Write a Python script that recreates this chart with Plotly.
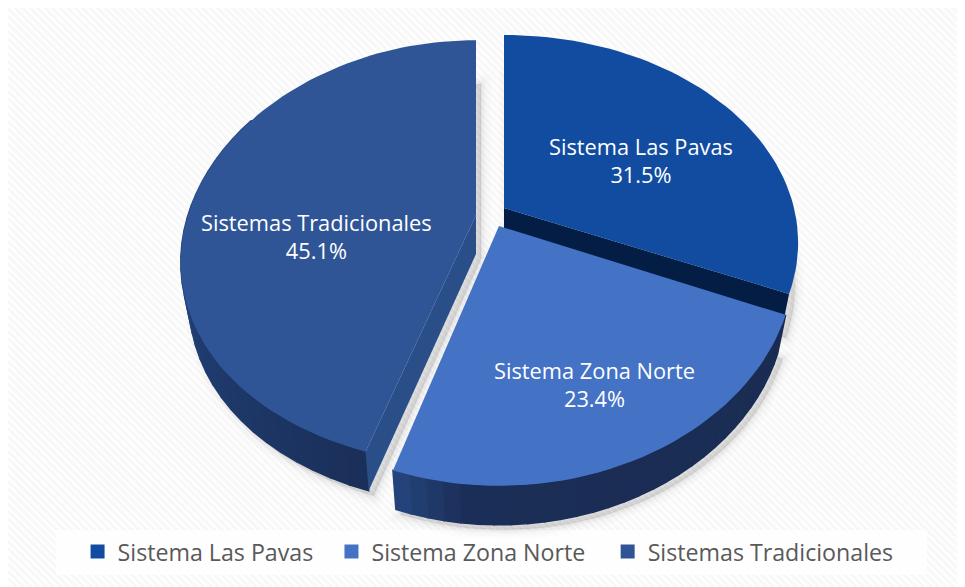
import math
import plotly.graph_objects as go

# ---- chart data
categories = ["Sistema Las Pavas", "Sistema Zona Norte", "Sistemas Tradicionales"]
percentages = [31.5, 23.4, 45.1]

# ---- styling
top_colors = ["#114ca0", "#4472c4", "#2f5597"]
cut_colors = ["#031d45", "#1a2d55", "#2a4e88"]
text_color = "#595959"
FONT = "Open Sans"
W, H = 965, 587
ORIGIN = 8  # the page body starts 8px in; axes keep page-pixel units

# perspective model for each exploded slice: apex x/y, half width, depth scale, perspective
geom = [
    dict(x0=504, y0=208, a=290, b=202, k=0.167, kx=0.167),
    dict(x0=499, y0=226, a=290, b=205, k=0.211, kx=0.18),
    dict(x0=476, y0=215, a=288, b=206, k=0.179, kx=0.22),
]
WALL = 39
BOTTOM_SCALE = 0.972


def project(g, theta, bottom=False):
    t = math.radians(theta)
    u, v = math.sin(t), -math.cos(t)
    s = BOTTOM_SCALE if bottom else 1
    x = g["x0"] + g["a"] * s * u / (1 - g["kx"] * v)
    y = g["y0"] + g["b"] * v / (1 - g["k"] * v) + (WALL if bottom else 0)
    return x, y


def arc(g, a0, a1, bottom=False, step=2.0):
    n = max(2, int(abs(a1 - a0) / step) + 1)
    return [project(g, a0 + (a1 - a0) * i / (n - 1), bottom) for i in range(n)]


def apex(g, bottom=False):
    return (g["x0"], g["y0"] + (WALL if bottom else 0))


def poly(points, fill, line=None, width=0):
    xs = [p[0] for p in points] + [points[0][0]]
    ys = [p[1] for p in points] + [points[0][1]]
    return go.Scatter(
        x=xs, y=ys, mode="lines", fill="toself", fillcolor=fill,
        line=dict(color=line or fill, width=width), hoverinfo="skip", showlegend=False,
    )


def mix(stops, t):
    stops = sorted(stops)
    if t <= stops[0][0]:
        return stops[0][1]
    for (t0, c0), (t1, c1) in zip(stops, stops[1:]):
        if t <= t1:
            f = (t - t0) / (t1 - t0)
            rgb = [
                round(int(c0[i:i + 2], 16) * (1 - f) + int(c1[i:i + 2], 16) * f)
                for i in (1, 3, 5)
            ]
            return "#%02x%02x%02x" % tuple(rgb)
    return stops[-1][1]


# slice angles from the values
angles = []
acc = 0.0
total = sum(percentages)
for p in percentages:
    angles.append((acc, acc + p / total * 360))
    acc += p / total * 360

fig = go.Figure()

# soft cast shadow
for i, g in enumerate(geom):
    a0, a1 = angles[i]
    sil = [(x + 5, y + 5) for x, y in [apex(g, True)] + arc(g, a0, a1, True)]
    for width, alpha in ((20, 0.012), (13, 0.02), (7, 0.035), (2, 0.05)):
        fig.add_trace(poly(sil, f"rgba(40,40,40,{alpha})", f"rgba(40,40,40,{alpha})", width))

# Las Pavas: cut face, then top
g, (a0, a1) = geom[0], angles[0]
fig.add_trace(poly([apex(g), project(g, a1), project(g, a1, True), apex(g, True)], cut_colors[0]))
fig.add_trace(poly([apex(g)] + arc(g, a0, a1), top_colors[0]))

# Zona Norte: outer wall, then top
g, (a0, a1) = geom[1], angles[1]
zn_stops = [(a0, "#1a2c52"), (a1 - 12, "#1b2e57"), (a1, "#25467f")]
for s in range(30):
    t0 = a0 + (a1 - a0) * s / 30
    t1 = a0 + (a1 - a0) * (s + 1) / 30
    col = mix(zn_stops, (t0 + t1) / 2)
    fig.add_trace(poly(arc(g, t0, t1) + arc(g, t1, t0, True), col, col, 1.5))
fig.add_trace(poly([apex(g)] + arc(g, a0, a1), top_colors[1]))

# Tradicionales: outer wall, cut face, top
g, (a0, a1) = geom[2], angles[2]
tr_stops = [(a0, "#1a3059"), (235, "#1f3a6d"), (275, "#28487f")]
for s in range(30):
    t0 = a0 + (300 - a0) * s / 30
    t1 = a0 + (300 - a0) * (s + 1) / 30
    col = mix(tr_stops, (t0 + t1) / 2)
    fig.add_trace(poly(arc(g, t0, t1) + arc(g, t1, t0, True), col, col, 1.5))
fig.add_trace(poly([apex(g), project(g, a0), project(g, a0, True), apex(g, True)], cut_colors[2]))
fig.add_trace(poly([apex(g)] + arc(g, a0, a1), top_colors[2]))

# legend entries, one legend block for each so spacing follows the reference
legend_ids = ["legend", "legend2", "legend3"]
legend_x = [0.0727, 0.338, 0.6266]
for name, col, lid in zip(categories, top_colors, legend_ids):
    fig.add_trace(go.Scatter(
        x=[None], y=[None], mode="markers", name=name, legend=lid,
        marker=dict(symbol="square", size=14, color=col),
    ))

# slice labels
label_pos = [(641, 160), (594, 384), (316, 236)]
annotations = [
    dict(x=x, y=y, xref="x", yref="y", showarrow=False, align="center",
         text=f"{name}<br>{pct}%", font=dict(family=FONT, size=21.8, color="white"))
    for (x, y), name, pct in zip(label_pos, categories, percentages)
]

# hatched backdrop (clipped diagonal stripes)
L, T, R, B = 8, 6, 958, 587
path = []
c = T - R
while c < B - L:
    x1 = max(L, T - c)
    x2 = min(R, B - c)
    if x2 > x1:
        path.append(f"M{x1},{x1 + c}L{x2},{x2 + c}")
    c += 7.5

shapes = [
    dict(type="path", path="".join(path), xref="x", yref="y", layer="below",
         line=dict(color="#f8f8f8", width=3.5)),
    dict(type="rect", x0=56, x1=927, y0=530, y1=575, xref="x", yref="y", layer="below",
         fillcolor="rgba(255,255,255,0.82)", line=dict(width=0)),
]


def legend_block(x):
    return dict(
        orientation="h", x=x, y=0.0604, xanchor="left", yanchor="middle",
        bgcolor="rgba(0,0,0,0)", font=dict(family=FONT, size=23.2, color=text_color),
        itemwidth=30,
    )


fig.update_layout(
    width=W - ORIGIN, height=H - ORIGIN, margin=dict(l=0, r=0, t=0, b=0),
    paper_bgcolor="white", plot_bgcolor="rgba(0,0,0,0)",
    xaxis=dict(range=[ORIGIN, W], visible=False, fixedrange=True),
    yaxis=dict(range=[H, ORIGIN], visible=False, fixedrange=True),
    shapes=shapes, annotations=annotations, hovermode=False,
    legend=legend_block(legend_x[0]),
    legend2=legend_block(legend_x[1]),
    legend3=legend_block(legend_x[2]),
    showlegend=True,
)

fig.write_html("out.html", config={"displayModeBar": False})
